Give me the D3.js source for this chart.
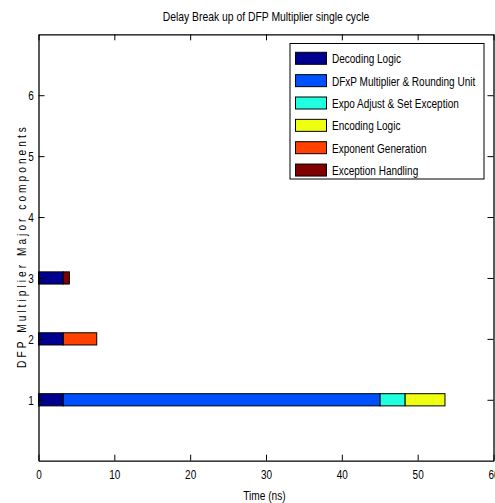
<!DOCTYPE html>
<html>
<head>
<meta charset="utf-8">
<script src="https://cdn.jsdelivr.net/npm/d3@7"></script>
<style>
  html, body { margin: 0; padding: 0; background: #fff; }
  svg { display: block; }
  text { font-family: "Liberation Sans", Arial, Helvetica, sans-serif; fill: #000; }
</style>
</head>
<body>
<svg id="chart" width="495" height="503"></svg>
<script>
// ---- data ----
const title = "Delay Break up of DFP Multiplier single cycle";
const xLabel = "Time (ns)";
const yLabel = "DFP Multiplier Major components";
const components = ["Decoding Logic", "DFxP Multiplier & Rounding Unit", "Expo Adjust & Set Exception",
                    "Encoding Logic", "Exponent Generation", "Exception Handling"];
const colors = ["#00008F", "#0050FF", "#20FFDF", "#EFFF10", "#FF4000", "#800000"];
const xTicks = [0, 10, 20, 30, 40, 50, 60];
const yTicks = [1, 2, 3, 4, 5, 6];
// segments per row: component index, start, end (ns)
const row1Components = [0, 1, 2, 3];
const row1Starts = [0, 3.27, 45.05, 48.35];
const row1Ends   = [3.27, 45.05, 48.35, 53.6];
const row2Components = [0, 4];
const row2Starts = [0, 3.27];
const row2Ends   = [3.27, 7.68];
const row3Components = [0, 5];
const row3Starts = [0, 3.27];
const row3Ends   = [3.27, 4.07];
const barHalfHeight = 0.1;

const segments = [];
[[1, row1Components, row1Starts, row1Ends],
 [2, row2Components, row2Starts, row2Ends],
 [3, row3Components, row3Starts, row3Ends]].forEach(([row, comps, starts, ends]) => {
  comps.forEach((c, i) => segments.push({ row, comp: c, start: starts[i], end: ends[i] }));
});

// ---- layout ----
const svg = d3.select("#chart");
const L = 38.5, R = 493.5, T = 34.3, B = 460.7;
const x = d3.scaleLinear().domain([0, 60]).range([L, R]);
const y = d3.scaleLinear().domain([0, 7]).range([B, T]);

// condensed text helper (horizontal squeeze to mimic a narrow font)
function addText(parent, px, py, str, size, sx, anchor, rot) {
  return parent.append("text")
    .attr("transform", `translate(${px},${py})${rot ? ` rotate(${rot})` : ""} scale(${sx},1)`)
    .attr("text-anchor", anchor || "start")
    .style("font-size", size + "px")
    .text(str);
}

// bars
svg.append("g").selectAll("rect").data(segments).join("rect")
  .attr("x", d => x(d.start))
  .attr("y", d => y(d.row + barHalfHeight))
  .attr("width", d => x(d.end) - x(d.start))
  .attr("height", d => y(d.row - barHalfHeight) - y(d.row + barHalfHeight))
  .attr("fill", d => colors[d.comp])
  .attr("stroke", "#000")
  .attr("stroke-width", 1);

// axes
const tickSx = 0.74, tickSize = 13.5;
const gx = svg.append("g").attr("transform", `translate(0,${B})`)
  .call(d3.axisBottom(x).tickValues(xTicks).tickSizeInner(-6).tickSizeOuter(0).tickPadding(9));
const gxTop = svg.append("g").attr("transform", `translate(0,${T})`)
  .call(d3.axisTop(x).tickValues(xTicks).tickSizeInner(-6).tickSizeOuter(0).tickFormat(""));
const gy = svg.append("g").attr("transform", `translate(${L},0)`)
  .call(d3.axisLeft(y).tickValues(yTicks).tickFormat(d3.format("d")).tickSizeInner(-6).tickSizeOuter(0).tickPadding(6.2));
const gyR = svg.append("g").attr("transform", `translate(${R},0)`)
  .call(d3.axisRight(y).tickValues(yTicks).tickSizeInner(-6).tickSizeOuter(0).tickFormat(""));
[gx, gxTop, gy, gyR].forEach(g => {
  g.select(".domain").attr("stroke", "#000").attr("stroke-width", 1.3);
  g.selectAll(".tick line").attr("stroke", "#000");
  g.selectAll("text").style("font-size", tickSize + "px").attr("font-family", null)
    .attr("transform", `scale(${tickSx},1)`);
});

// title and labels
addText(svg, 266, 20.5, title, 12.5, 0.83, "middle");
addText(svg, 264.5, 499.5, xLabel, 13, 0.78, "middle");
addText(svg, 25.5, 246, yLabel, 13, 0.78, "middle", -90).style("letter-spacing", "3.9px");

// legend
const lg = svg.append("g");
lg.append("rect").attr("x", 290).attr("y", 43.5).attr("width", 194).attr("height", 135.5)
  .attr("fill", "#fff").attr("stroke", "#000").attr("stroke-width", 1);
const rowY0 = 58.3, rowStep = 22.35;
components.forEach((name, i) => {
  const cy = rowY0 + i * rowStep;
  lg.append("rect").attr("x", 295.5).attr("y", cy - 6).attr("width", 31).attr("height", 12)
    .attr("fill", colors[i]).attr("stroke", "#000").attr("stroke-width", 1);
  addText(lg, 332, cy + 5, name, 13, 0.77, "start");
});
</script>
</body>
</html>
